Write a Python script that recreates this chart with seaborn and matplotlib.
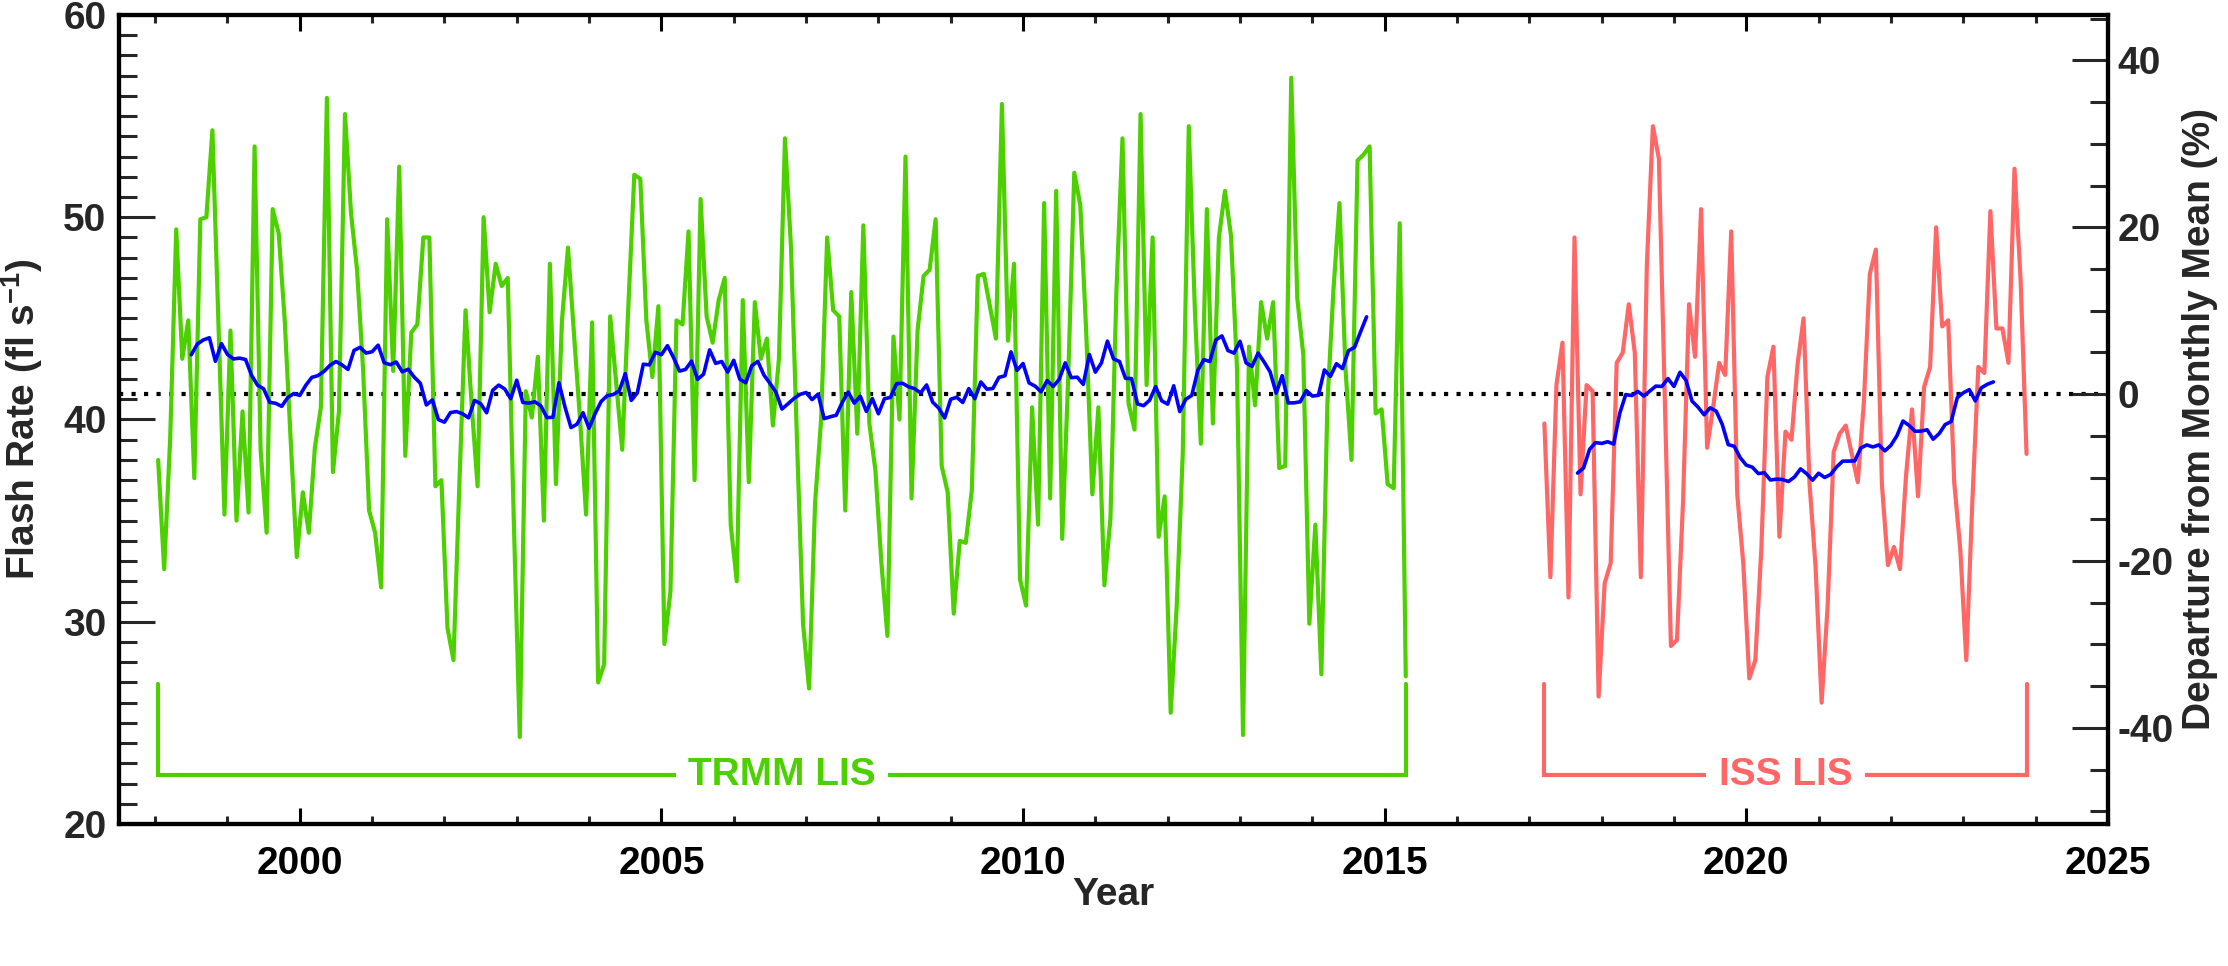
import numpy as np
import pandas as pd
import matplotlib
matplotlib.use("Agg")
import matplotlib.pyplot as plt
from matplotlib.ticker import MultipleLocator
import seaborn as sns

# Monthly flash rate (fl/s), TRMM LIS, Jan 1998 - Apr 2015
trmm_rate = [
    38.0, 32.6, 39.1, 49.4, 43.0, 44.9, 37.1, 49.9, 50.0, 54.3, 44.8, 35.3,
    44.4, 35.0, 40.4, 35.4, 53.5, 38.5, 34.4, 50.4, 49.2, 44.9, 38.9, 33.2,
    36.4, 34.4, 38.6, 40.6, 55.9, 37.4, 40.4, 55.1, 50.2, 47.4, 42.5, 35.5,
    34.4, 31.7, 49.9, 42.4, 52.5, 38.2, 44.3, 44.7, 49.0, 49.0, 36.7, 37.0,
    29.7, 28.1, 37.0, 45.4, 40.8, 36.7, 50.0, 45.3, 47.7, 46.6, 47.0, 35.1,
    24.3, 41.4, 40.1, 43.1, 35.0, 47.7, 36.8, 44.9, 48.5, 44.2, 40.0, 35.3,
    44.8, 27.0, 27.9, 45.1, 41.8, 38.5, 45.5, 52.1, 51.9, 44.9, 42.1, 45.6,
    28.9, 31.5, 44.9, 44.7, 49.3, 37.0, 50.9, 45.1, 43.8, 45.9, 47.0, 34.8,
    32.0, 45.9, 36.9, 45.8, 43.0, 44.0, 39.7, 43.0, 53.9, 48.5, 38.9, 29.9,
    26.7, 35.9, 40.0, 49.0, 45.4, 45.1, 35.5, 46.3, 39.3, 49.6, 39.8, 37.5,
    32.9, 29.3, 44.1, 40.0, 53.0, 36.1, 44.4, 47.1, 47.4, 49.9, 37.7, 36.4,
    30.4, 34.0, 33.9, 36.5, 47.1, 47.2, 45.6, 44.0, 55.6, 43.9, 47.7, 32.1,
    30.8, 40.6, 34.8, 50.7, 36.1, 51.3, 34.1, 42.1, 52.2, 50.6, 44.2, 36.3,
    40.6, 31.8, 35.1, 46.4, 53.9, 40.8, 39.5, 55.1, 41.7, 49.0, 34.2, 36.2,
    25.5, 30.8, 38.3, 54.5, 45.5, 38.8, 50.4, 39.8, 49.0, 51.3, 49.1, 42.5,
    24.4, 43.6, 40.7, 45.8, 44.0, 45.8, 37.6, 37.7, 56.9, 46.0, 43.2, 29.9,
    34.8, 27.4, 40.8, 46.4, 50.7, 42.5, 38.0, 52.8, 53.1, 53.5, 40.3, 40.5,
    36.8, 36.6, 49.7, 27.3,
]

# Monthly flash rate (fl/s), ISS LIS, Mar 2017 - Nov 2023
iss_rate = [
    39.8, 32.2, 41.7, 43.8, 31.2, 49.0, 36.3, 41.7, 41.4, 26.3,
    31.9, 32.9, 42.8, 43.3, 45.7, 43.3, 32.2, 47.6, 54.5, 52.9, 40.8, 28.8,
    29.1, 35.9, 45.7, 43.1, 50.4, 38.6, 40.6, 42.8, 42.2, 49.3, 36.3, 32.9,
    27.2, 28.1, 33.6, 42.1, 43.6, 34.2, 39.4, 39.0, 42.7, 45.0, 36.8, 32.7,
    26.0, 30.8, 38.4, 39.3, 39.7, 38.3, 36.9, 40.8, 47.2, 48.4, 36.8, 32.8,
    33.7, 32.6, 37.2, 40.5, 36.2, 41.6, 42.6, 49.5, 44.6, 44.9, 36.9, 33.6,
    28.1, 35.9, 42.6, 42.3, 50.3, 44.5, 44.5, 42.8, 52.4, 47.0, 38.3,
]

trmm_first_month = "1998-01"
iss_first_month = "2017-03"
monthly_mean = 41.25            # long-term mean flash rate (fl/s)
mission_names = ["TRMM LIS", "ISS LIS"]

year_ticks_major = 5
rate_limits = (20, 60)

GREEN = "#4cd000"
RED = "#ff6666"
BLUE = "#0000ff"


def month_centres(first, n):
    months = pd.period_range(first, periods=n, freq="M")
    return np.asarray(months.year + (months.month - 0.5) / 12.0, dtype=float)


def running_mean(x, y, window=12):
    kernel = np.ones(window) / window
    return (np.convolve(x, kernel, mode="valid"),
            np.convolve(np.asarray(y, float), kernel, mode="valid"))


trmm_x = month_centres(trmm_first_month, len(trmm_rate))
iss_x = month_centres(iss_first_month, len(iss_rate))

# April 2015 is a partial month, so it is left out of the 12-month mean
trmm_rm_x, trmm_rm = running_mean(trmm_x[:-1], trmm_rate[:-1])
iss_rm_x, iss_rm = running_mean(iss_x, iss_rate)

sns.set_style("ticks")
plt.rcParams.update({
    "font.family": ["Liberation Sans", "DejaVu Sans"],
    "font.weight": "bold",
    "axes.unicode_minus": False,
    "mathtext.fontset": "custom",
    "mathtext.rm": "Liberation Sans:bold",
    "mathtext.bf": "Liberation Sans:bold",
    "mathtext.default": "bf",
})

FS = 28
LW_DATA = 3.0

fig = plt.figure(figsize=(22.28, 9.66), dpi=100)
ax = fig.add_axes([0.0534, 0.1470, 0.8927, 0.8375])

ax.axhline(monthly_mean, color="black", lw=3.0, linestyle=(0, (1, 2.0)),
           dash_capstyle="butt", zorder=2)

sns.lineplot(x=trmm_x, y=trmm_rate, ax=ax, color=GREEN, lw=LW_DATA,
             estimator=None, sort=False, zorder=4)
sns.lineplot(x=iss_x, y=iss_rate, ax=ax, color=RED, lw=LW_DATA,
             estimator=None, sort=False, zorder=4)
sns.lineplot(x=trmm_rm_x, y=trmm_rm, ax=ax, color=BLUE, lw=2.6,
             estimator=None, sort=False, zorder=5)
sns.lineplot(x=iss_rm_x, y=iss_rm, ax=ax, color=BLUE, lw=2.6,
             estimator=None, sort=False, zorder=5)

# Mission brackets along the bottom of the plot
bracket_base, bracket_top = 22.4, 26.9
for name, xs, col in zip(mission_names, [trmm_x, iss_x], [GREEN, RED]):
    x0, x1 = xs[0], xs[-1]
    ax.plot([x0, x0, x1, x1], [bracket_top, bracket_base, bracket_base, bracket_top],
            color=col, lw=LW_DATA, solid_joinstyle="miter", zorder=3)
    ax.text((x0 + x1) / 2, bracket_base, name, color=col, fontsize=FS,
            fontweight="bold", ha="center", va="center",
            bbox=dict(facecolor="white", edgecolor="none", pad=9), zorder=3.5)

ax.set_xlim(1997.5, 2025)
ax.set_ylim(*rate_limits)
ax.xaxis.set_major_locator(MultipleLocator(year_ticks_major))
ax.xaxis.set_minor_locator(MultipleLocator(1))
ax.yaxis.set_major_locator(MultipleLocator(10))
ax.yaxis.set_minor_locator(MultipleLocator(1))

ax.tick_params(axis="x", which="major", direction="in", length=11.5, width=2.2,
               top=True, bottom=True, pad=16, labelsize=FS, colors="black")
ax.tick_params(axis="x", which="minor", direction="in", length=5.8, width=2.2,
               top=True, bottom=True)
ax.tick_params(axis="y", which="major", direction="in", length=26, width=2.2,
               left=True, right=False, pad=9, labelsize=FS)
ax.tick_params(axis="y", which="minor", direction="in", length=13, width=2.2,
               left=True, right=False)

ax.set_xlabel("Year", fontsize=FS, fontweight="bold", va="center")
ax.xaxis.set_label_coords(0.5, -0.0878)
ax.set_ylabel("Flash Rate (fl s$^{-1}$)", fontsize=FS, fontweight="bold",
              va="center")
ax.yaxis.set_label_coords(-0.0488, 0.5)

# Right axis: percentage departure from the long-term mean
ax2 = ax.twinx()
lo, hi = rate_limits
ax2.set_ylim((lo / monthly_mean - 1) * 100, (hi / monthly_mean - 1) * 100)
ax2.yaxis.set_major_locator(MultipleLocator(20))
ax2.yaxis.set_minor_locator(MultipleLocator(5))
ax2.tick_params(axis="y", which="major", direction="in", length=26, width=2.2,
                right=True, pad=7, labelsize=FS)
ax2.tick_params(axis="y", which="minor", direction="in", length=13, width=2.2,
                right=True)
ax2.set_ylabel("Departure from Monthly Mean (%)", fontsize=FS, fontweight="bold",
               va="center", rotation=90)
ax2.yaxis.set_label_coords(1.0465, 0.5)

for a in (ax, ax2):
    for s in a.spines.values():
        s.set_linewidth(3.0)
        s.set_color("black")
        s.set_visible(True)

fig.savefig("out.png", dpi=100, facecolor="white")
